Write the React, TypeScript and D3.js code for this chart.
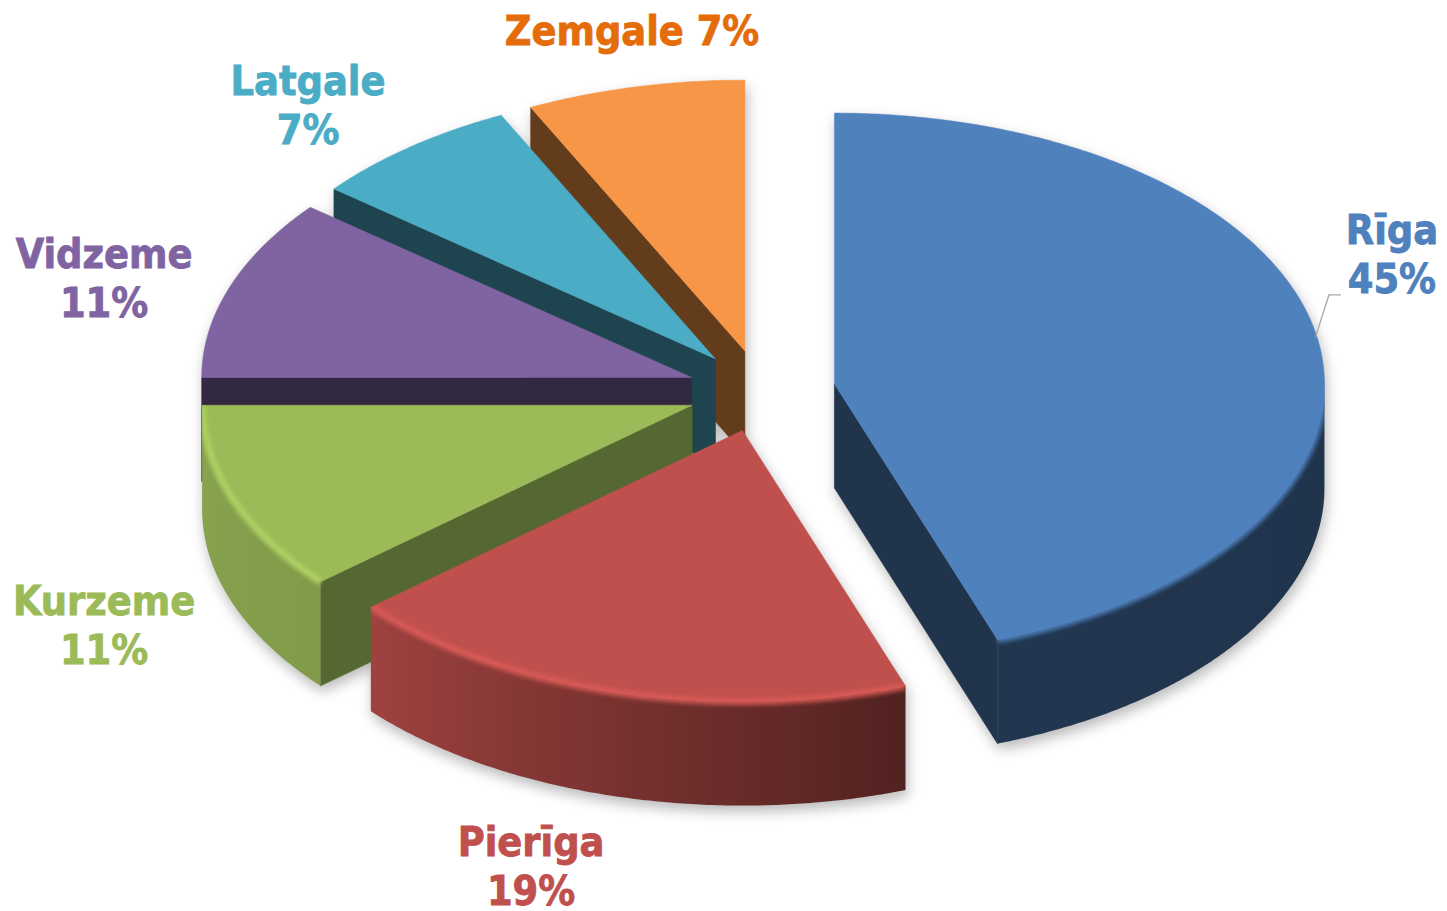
import React from 'react';
import * as d3 from 'd3';

// ---- data ----
const categories = ['Rīga', 'Pierīga', 'Kurzeme', 'Vidzeme', 'Latgale', 'Zemgale'];
const values = [44.6, 19.1, 11.3, 10.8, 7.0, 7.2];
const sliceColors = ['#4F81BD', '#C0504D', '#9BBB59', '#8064A2', '#4BACC6', '#F79646'];
const labelColors = ['#4F81BD', '#C0504D', '#9BBB59', '#8064A2', '#4BACC6', '#E46C0A'];
const singleLineLabel = [false, false, false, false, false, true];
const leaderLine = [true, false, false, false, false, false];

// ---- layout (label offsets from slice outer edge at mid-angle) ----
const labelNudge: [number, number][] = [
  [74.5, -84.4],
  [-85, 70],
  [-128.6, 21.6],
  [-125.6, -9.2],
  [-102.2, -41.9],
  [-3, -57],
];

export default function App() {
  const W = 1447, H = 911;
  const cx = 761.5, cy = 391, rx = 490, ry = 271, depth = 104, explode = 74;
  const k = ry / rx;
  const fontSize = 41;
  const lineGap = 49;
  const total = d3.sum(values);
  const arcs = d3.pie<number>().sort(null).value((d) => d)(values);
  const rad = Math.PI / 180;

  const shade = (c: string, f: number) => {
    const r = d3.rgb(c);
    return d3.rgb(r.r * f, r.g * f, r.b * f).formatHex();
  };
  const wallF = d3
    .scaleLinear()
    .domain([90, 160, 230, 270].map((d) => d * rad))
    .range([0.4, 0.42, 0.83, 0.88])
    .clamp(true);
  const lineGen = d3.line();
  const closed = (pts: [number, number][]) => (lineGen(pts) || '') + 'Z';
  const open = (pts: [number, number][]) => lineGen(pts) || '';

  const slices = arcs.map((a, i) => {
    const a0 = a.startAngle, a1 = a.endAngle, m = (a0 + a1) / 2;
    const T: [number, number] = [cx + explode * Math.sin(m), cy - explode * Math.cos(m) * k];
    const pt = (ang: number, dz = 0): [number, number] => [
      T[0] + rx * Math.sin(ang),
      T[1] - ry * Math.cos(ang) + dz,
    ];
    const arcPts = (s: number, e: number, dz = 0) => {
      const n = Math.max(2, Math.ceil(Math.abs(e - s) / (0.5 * rad)));
      return d3.range(n + 1).map((j) => pt(s + ((e - s) * j) / n, dz));
    };
    const top = closed([T, ...arcPts(a0, a1)]);
    const ws = Math.max(a0, 90 * rad), we = Math.min(a1, 270 * rad);
    let wall: string | null = null;
    let wallEdge: string | null = null;
    let grad: { x1: number; x2: number; stops: { o: number; c: string }[] } | null = null;
    if (we > ws + 1e-6) {
      wall = closed([...arcPts(ws, we), ...arcPts(we, ws, depth)]);
      wallEdge = open(arcPts(ws, we));
      const x1 = pt(ws)[0], x2 = pt(we)[0];
      const stops = d3.range(9).map((j) => {
        const th = ws + ((we - ws) * j) / 8;
        return { o: (pt(th)[0] - x1) / (x2 - x1), c: shade(sliceColors[i], wallF(th)) };
      });
      grad = { x1, x2, stops };
    }
    const faces: { d: string; c: string; edge: string }[] = [];
    const faceF = (phi: number) => 0.4 + 0.24 * Math.max(0, Math.sin(phi));
    if (Math.sin(a0) < -1e-6) {
      const p = pt(a0);
      faces.push({
        d: closed([T, p, pt(a0, depth), [T[0], T[1] + depth]]),
        c: shade(sliceColors[i], faceF(a0 - Math.PI / 2)),
        edge: open([T, p]),
      });
    }
    if (Math.sin(a1) > 1e-6) {
      const p = pt(a1);
      faces.push({
        d: closed([T, p, pt(a1, depth), [T[0], T[1] + depth]]),
        c: shade(sliceColors[i], faceF(a1 + Math.PI / 2)),
        edge: open([T, p]),
      });
    }
    const P = Math.cos(m) < 0 ? pt(m, depth) : pt(m, 0);
    const lc: [number, number] = [P[0] + labelNudge[i][0], P[1] + labelNudge[i][1]];
    const pct = Math.round((values[i] / total) * 100) + '%';
    return { i, a0, a1, m, T, top, wall, wallEdge, grad, faces, P, lc, pct };
  });

  const order = [...slices].sort((a, b) => Math.cos(b.m) - Math.cos(a.m));
  const font = "'DejaVu Sans Condensed', 'DejaVu Sans', Verdana, sans-serif";

  return (
    <svg
      width={W}
      height={H}
      viewBox={`0 0 ${W} ${H}`}
      style={{ position: 'absolute', left: 0, top: 0, background: '#fff' }}
    >
      <defs>
        <filter id="shadowBlur" x="-20%" y="-20%" width="140%" height="140%">
          <feGaussianBlur stdDeviation="7" />
        </filter>
        <filter id="bevelBlur" x="-10%" y="-10%" width="120%" height="120%">
          <feGaussianBlur stdDeviation="2.2" />
        </filter>
        {slices.map((s) =>
          s.grad ? (
            <linearGradient
              key={'g' + s.i}
              id={'wall' + s.i}
              gradientUnits="userSpaceOnUse"
              x1={s.grad.x1}
              x2={s.grad.x2}
              y1={0}
              y2={0}
            >
              {s.grad.stops.map((st, j) => (
                <stop key={j} offset={st.o} stopColor={st.c} />
              ))}
            </linearGradient>
          ) : null
        )}
        {slices.map((s) => (
          <clipPath key={'c' + s.i} id={'clip' + s.i}>
            <path d={s.top} />
            {s.wall && <path d={s.wall} />}
            {s.faces.map((f, j) => (
              <path key={j} d={f.d} />
            ))}
          </clipPath>
        ))}
      </defs>

      {/* soft shadow */}
      <g filter="url(#shadowBlur)" opacity={0.28} transform="translate(2,6)">
        {slices.map((s) => (
          <g key={'sh' + s.i}>
            <path d={s.top} fill="#000" />
            {s.wall && <path d={s.wall} fill="#000" />}
            {s.faces.map((f, j) => (
              <path key={j} d={f.d} fill="#000" />
            ))}
          </g>
        ))}
      </g>

      {order.map((s) => (
        <g key={'s' + s.i}>
          {s.faces.map((f, j) => (
            <path key={j} d={f.d} fill={f.c} stroke={f.c} strokeWidth={0.6} />
          ))}
          {s.wall && (
            <path d={s.wall} fill={`url(#wall${s.i})`} stroke="none" />
          )}
          <path d={s.top} fill={sliceColors[s.i]} stroke={sliceColors[s.i]} strokeWidth={0.5} />
          <g clipPath={`url(#clip${s.i})`}>
            {s.wallEdge && (
              <path
                d={s.wallEdge}
                fill="none"
                stroke={d3.rgb(sliceColors[s.i]).brighter(s.i === 0 ? 0 : 0.35).formatHex()}
                strokeWidth={7}
                filter="url(#bevelBlur)"
                opacity={0.9}
              />
            )}
          </g>
        </g>
      ))}

      {/* leader lines */}
      {slices.map((s) =>
        leaderLine[s.i] ? (
          <path
            key={'l' + s.i}
            d={open([
              [s.P[0] - 2, s.P[1] - 1],
              [s.lc[0] - 63, s.lc[1] + 41],
              [s.lc[0] - 51, s.lc[1] + 41],
            ])}
            fill="none"
            stroke="#A6A6A6"
            strokeWidth={1.3}
          />
        ) : null
      )}

      {/* labels */}
      {slices.map((s) => (
        <text
          key={'t' + s.i}
          fontFamily={font}
          fontWeight="bold"
          fontSize={fontSize}
          fill={labelColors[s.i]}
          stroke={labelColors[s.i]}
          strokeWidth={0.8}
          textAnchor="middle"
        >
          {singleLineLabel[s.i] ? (
            <tspan x={s.lc[0]} y={s.lc[1] + 14.5}>
              {categories[s.i] + ' ' + s.pct}
            </tspan>
          ) : (
            <>
              <tspan x={s.lc[0]} y={s.lc[1] - 10}>
                {categories[s.i]}
              </tspan>
              <tspan x={s.lc[0]} y={s.lc[1] - 10 + lineGap}>
                {s.pct}
              </tspan>
            </>
          )}
        </text>
      ))}
    </svg>
  );
}
